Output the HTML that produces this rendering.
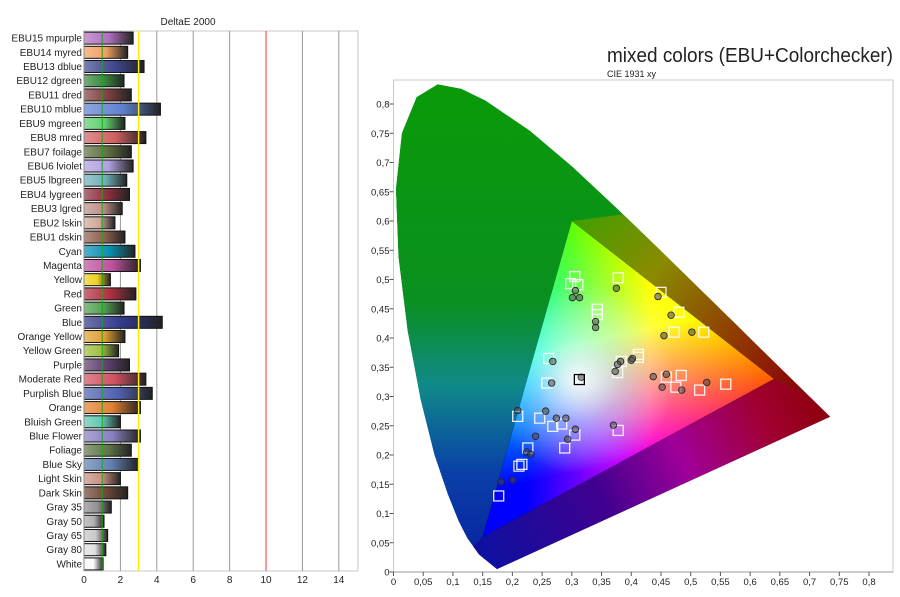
<!DOCTYPE html>
<html><head><meta charset="utf-8">
<style>
body{margin:0;background:#fff;font-family:"Liberation Sans",sans-serif;}
svg{display:block}
text{font-family:"Liberation Sans",sans-serif;fill:#222}
</style></head>
<body>
<svg id="c" width="900" height="597">
<defs>
  <linearGradient id="hsBase" x1="0" y1="0" x2="0" y2="1">
    <stop offset="0" stop-color="#0a9a08"/>
    <stop offset="0.45" stop-color="#0a9020"/>
    <stop offset="0.62" stop-color="#0f8a88"/>
    <stop offset="0.8" stop-color="#0a40a8"/>
    <stop offset="1" stop-color="#0820a0"/>
  </linearGradient>
  <linearGradient id="rightReg" gradientUnits="userSpaceOnUse" x1="571" y1="221" x2="780" y2="400">
    <stop offset="0" stop-color="#40a000"/>
    <stop offset="0.35" stop-color="#8a8a00"/>
    <stop offset="0.7" stop-color="#904000"/>
    <stop offset="1" stop-color="#8a0808"/>
  </linearGradient>
  <linearGradient id="botReg" gradientUnits="userSpaceOnUse" x1="490" y1="560" x2="820" y2="410">
    <stop offset="0" stop-color="#1010a0"/>
    <stop offset="0.35" stop-color="#400090"/>
    <stop offset="0.6" stop-color="#a00098"/>
    <stop offset="0.85" stop-color="#a00030"/>
    <stop offset="1" stop-color="#900010"/>
  </linearGradient>
  <linearGradient id="gR" gradientUnits="userSpaceOnUse" x1="774" y1="380" x2="527" y2="380"><stop offset="0" stop-color="#ff0000"/><stop offset="0.5" stop-color="#ff0000"/><stop offset="1" stop-color="#000"/></linearGradient>
  <linearGradient id="gG" gradientUnits="userSpaceOnUse" x1="571" y1="221" x2="628" y2="459"><stop offset="0" stop-color="#00ff00"/><stop offset="0.5" stop-color="#00ff00"/><stop offset="1" stop-color="#000"/></linearGradient>
  <linearGradient id="gB" gradientUnits="userSpaceOnUse" x1="482" y1="538" x2="672" y2="300"><stop offset="0" stop-color="#0000ff"/><stop offset="0.5" stop-color="#0000ff"/><stop offset="1" stop-color="#000"/></linearGradient>
  <radialGradient id="wGlow" gradientUnits="userSpaceOnUse" cx="579" cy="379" r="95">
    <stop offset="0" stop-color="#fff" stop-opacity="0.95"/>
    <stop offset="0.45" stop-color="#fff" stop-opacity="0.4"/>
    <stop offset="1" stop-color="#fff" stop-opacity="0"/>
  </radialGradient>
  <clipPath id="hsClip"><path id="hsClipPath"/></clipPath>
</defs>
<g id="left"></g>
<g id="right"></g>
</svg>
<script>
// ---------- Bar chart data ----------
const barLabels=["EBU15 mpurple","EBU14 myred","EBU13 dblue","EBU12 dgreen","EBU11 dred","EBU10 mblue","EBU9 mgreen","EBU8 mred","EBU7 foilage","EBU6 lviolet","EBU5 lbgreen","EBU4 lygreen","EBU3 lgred","EBU2 lskin","EBU1 dskin","Cyan","Magenta","Yellow","Red","Green","Blue","Orange Yellow","Yellow Green","Purple","Moderate Red","Purplish Blue","Orange","Bluish Green","Blue Flower","Foliage","Blue Sky","Light Skin","Dark Skin","Gray 35","Gray 50","Gray 65","Gray 80","White"];
const barValues=[2.7,2.4,3.3,2.2,2.6,4.2,2.25,3.4,2.6,2.7,2.35,2.5,2.1,1.7,2.25,2.8,3.1,1.45,2.85,2.2,4.3,2.25,1.9,2.5,3.4,3.75,3.1,2.0,3.1,2.6,3.0,2.0,2.4,1.5,1.1,1.3,1.2,1.05];
const barColors=["#b070c0","#f0a060","#404890","#3a8a40","#804040","#6080d0","#60d070","#d06060","#607040","#b0a0e0","#70b0b8","#903040","#c09088","#d0a898","#906050","#0890b0","#c050a0","#f0d020","#b03040","#50a050","#303888","#e0a030","#a0c040","#604070","#d05060","#5060b0","#e08030","#60c8b0","#8880c0","#607848","#6080b0","#c89080","#704838","#909090","#b0b0b0","#c8c8c8","#e0e0e0","#fafafa"];
const barTicks=[0,2,4,6,8,10,12,14];

// ---------- CIE data ----------
const locusX=[0.1741,0.1440,0.1241,0.1096,0.0913,0.0687,0.0454,0.0235,0.0082,0.0039,0.0139,0.0389,0.0743,0.1142,0.1547,0.2296,0.3016,0.3731,0.4441,0.5125,0.5752,0.6270,0.6915,0.7347];
const locusY=[0.0050,0.0297,0.0578,0.0868,0.1327,0.2007,0.2950,0.4127,0.5384,0.6548,0.7502,0.8120,0.8338,0.8262,0.8059,0.7543,0.6923,0.6245,0.5547,0.4866,0.4242,0.3725,0.3083,0.2653];
const gamutX=[0.64,0.30,0.15];
const gamutY=[0.33,0.60,0.06];
const targetX=[0.305,0.298,0.310,0.378,0.450,0.480,0.472,0.522,0.343,0.343,0.261,0.258,0.315,0.383,0.377,0.412,0.412,0.459,0.484,0.475,0.515,0.559,0.209,0.246,0.268,0.283,0.305,0.378,0.288,0.226,0.211,0.216,0.177];
const targetY=[0.505,0.493,0.491,0.503,0.478,0.444,0.410,0.410,0.449,0.440,0.365,0.323,0.331,0.360,0.341,0.372,0.367,0.333,0.336,0.316,0.311,0.321,0.266,0.263,0.249,0.253,0.234,0.242,0.212,0.212,0.181,0.184,0.130];
const measX=[0.306,0.301,0.313,0.375,0.445,0.467,0.455,0.502,0.340,0.340,0.268,0.266,0.316,0.382,0.377,0.373,0.402,0.400,0.437,0.459,0.452,0.485,0.527,0.209,0.256,0.274,0.290,0.306,0.370,0.239,0.293,0.224,0.231,0.201,0.181];
const measY=[0.481,0.469,0.469,0.485,0.471,0.439,0.404,0.410,0.428,0.418,0.360,0.323,0.333,0.360,0.355,0.343,0.365,0.362,0.334,0.338,0.316,0.311,0.324,0.276,0.275,0.263,0.263,0.244,0.251,0.232,0.227,0.205,0.201,0.157,0.154];
const cieTicks=[0,0.05,0.1,0.15,0.2,0.25,0.3,0.35,0.4,0.45,0.5,0.55,0.6,0.65,0.7,0.75,0.8];

const NS="http://www.w3.org/2000/svg";
function mk(tag,attrs,parent){const e=document.createElementNS(NS,tag);for(const k in attrs)e.setAttribute(k,attrs[k]);parent.appendChild(e);return e;}
const defs=document.querySelector('defs');

// ---------- Left chart ----------
const L=document.getElementById('left');
const bx0=84,bxUnit=18.2,bTop=31,bBot=571,rowH=(bBot-bTop)/barLabels.length;
const bxs=v=>bx0+v*bxUnit;
const frame=mk('rect',{x:bx0,y:bTop,width:358-bx0,height:bBot-bTop,fill:'#fff',stroke:'#c8c8c8'},L);

barTicks.forEach(t=>{
  if(t>0){const g=mk('line',{x1:bxs(t),x2:bxs(t),y1:bTop,y2:bBot,stroke:t===10?'#ff3030':'#999','stroke-width':1},L);
  }
  const tx=mk('text',{x:bxs(t),y:583,'font-size':10,'text-anchor':'middle'},L);tx.textContent=t;
  
});
barLabels.forEach((lab,i)=>{
  const cy=bTop+rowH*(i+0.5);
  const gid='bg'+i;
  const lg=mk('linearGradient',{id:gid,x1:0,y1:0,x2:1,y2:0},defs);
  mk('stop',{offset:0,'stop-color':barColors[i],'stop-opacity':0.7},lg);
  mk('stop',{offset:0.5,'stop-color':barColors[i]},lg);
  mk('stop',{offset:1,'stop-color':'#222'},lg);
  const bg=mk('rect',{x:bx0,y:cy-6,width:bxs(barValues[i])-bx0,height:12,fill:'url(#'+gid+')',stroke:'#111','stroke-width':1},L);
  
  const t=mk('text',{x:bx0-2,y:cy+3.5,'font-size':10,'text-anchor':'end'},L);t.textContent=lab;
  
});
const gl=mk('line',{x1:bxs(1),x2:bxs(1),y1:bTop,y2:bBot,stroke:'#20a020'},L);

const yl=mk('line',{x1:bxs(3),x2:bxs(3),y1:bTop,y2:bBot,stroke:'#ffee00','stroke-width':1.5},L);

mk('line',{x1:bx0,x2:bx0,y1:bTop,y2:bBot,stroke:'#888'},L);
const lt=mk('text',{x:188,y:25,'font-size':10,'text-anchor':'middle'},L);lt.textContent='DeltaE 2000';


// ---------- Right chart ----------
const R=document.getElementById('right');
const cx0=393.5,cxU=594.4,cy0=572,cyU=585;
const sx=v=>cx0+v*cxU, sy=v=>cy0-v*cyU;
const box=mk('rect',{x:cx0,y:80,width:893-cx0,height:cy0-80,fill:'#fff',stroke:'#c8c8c8'},R);

const t1=mk('text',{x:607,y:62,'font-size':20,textLength:286,lengthAdjust:'spacingAndGlyphs'},R);t1.textContent='mixed colors (EBU+Colorchecker)';

const t2=mk('text',{x:607,y:77,'font-size':9},R);t2.textContent='CIE 1931 xy';


let d='M'+locusX.map((x,i)=>sx(x).toFixed(1)+','+sy(locusY[i]).toFixed(1)).join(' L')+' Z';
document.getElementById('hsClipPath').setAttribute('d',d);
const hs=mk('g',{'clip-path':'url(#hsClip)'},R);

mk('path',{d:d,fill:'url(#hsBase)'},hs);
const G=[sx(gamutX[1]),sy(gamutY[1])],Rd=[sx(gamutX[0]),sy(gamutY[0])],B=[sx(gamutX[2]),sy(gamutY[2])];
mk('polygon',{points:[G,[sx(0.45),sy(0.62)],[sx(0.80),sy(0.25)],Rd].map(p=>p.join(',')).join(' '),fill:'url(#rightReg)'},hs);
mk('polygon',{points:[B,Rd,[sx(0.80),sy(0.25)],[sx(0.17),sy(-0.02)],[sx(0.13),sy(0.04)]].map(p=>p.join(',')).join(' '),fill:'url(#botReg)'},hs);
const tri=[Rd,G,B].map(p=>p.join(',')).join(' ');
const tg=mk('g',{style:'isolation:isolate'},R);

mk('polygon',{points:tri,fill:'#000'},tg);
['gR','gG','gB'].forEach(id=>{mk('polygon',{points:tri,fill:'url(#'+id+')',style:'mix-blend-mode:screen'},tg);});
mk('polygon',{points:tri,fill:'url(#wGlow)'},tg);

targetX.forEach((x,i)=>{
  const s=mk('rect',{x:sx(x)-5,y:sy(targetY[i])-5,width:10,height:10,fill:'none',stroke:'#fff','stroke-width':1.3,opacity:0.9},R);
  
});
measX.forEach((x,i)=>{
  const c=mk('circle',{cx:sx(x),cy:sy(measY[i]),r:3.3,fill:'rgba(70,70,70,0.55)',stroke:'#222','stroke-width':0.8},R);
  
});
const wp=mk('rect',{x:sx(0.3127)-5,y:sy(0.329)-5,width:10,height:10,fill:'none',stroke:'#000','stroke-width':1.3},R);


mk('line',{x1:cx0,x2:893,y1:cy0,y2:cy0,stroke:'#999'},R);
cieTicks.forEach(t=>{
  const lab=String(t).replace('.',',');
  mk('line',{x1:sx(t),x2:sx(t),y1:cy0,y2:cy0+4,stroke:'#555'},R);
  const a=mk('text',{x:sx(t),y:585,'font-size':9.5,'text-anchor':'middle'},R);a.textContent=lab;
  
  mk('line',{x1:cx0-4,x2:cx0,y1:sy(t),y2:sy(t),stroke:'#555'},R);
  const b=mk('text',{x:cx0-4,y:sy(t)+3.5,'font-size':9.5,'text-anchor':'end'},R);b.textContent=lab;
  
});
</script>
</body></html>
